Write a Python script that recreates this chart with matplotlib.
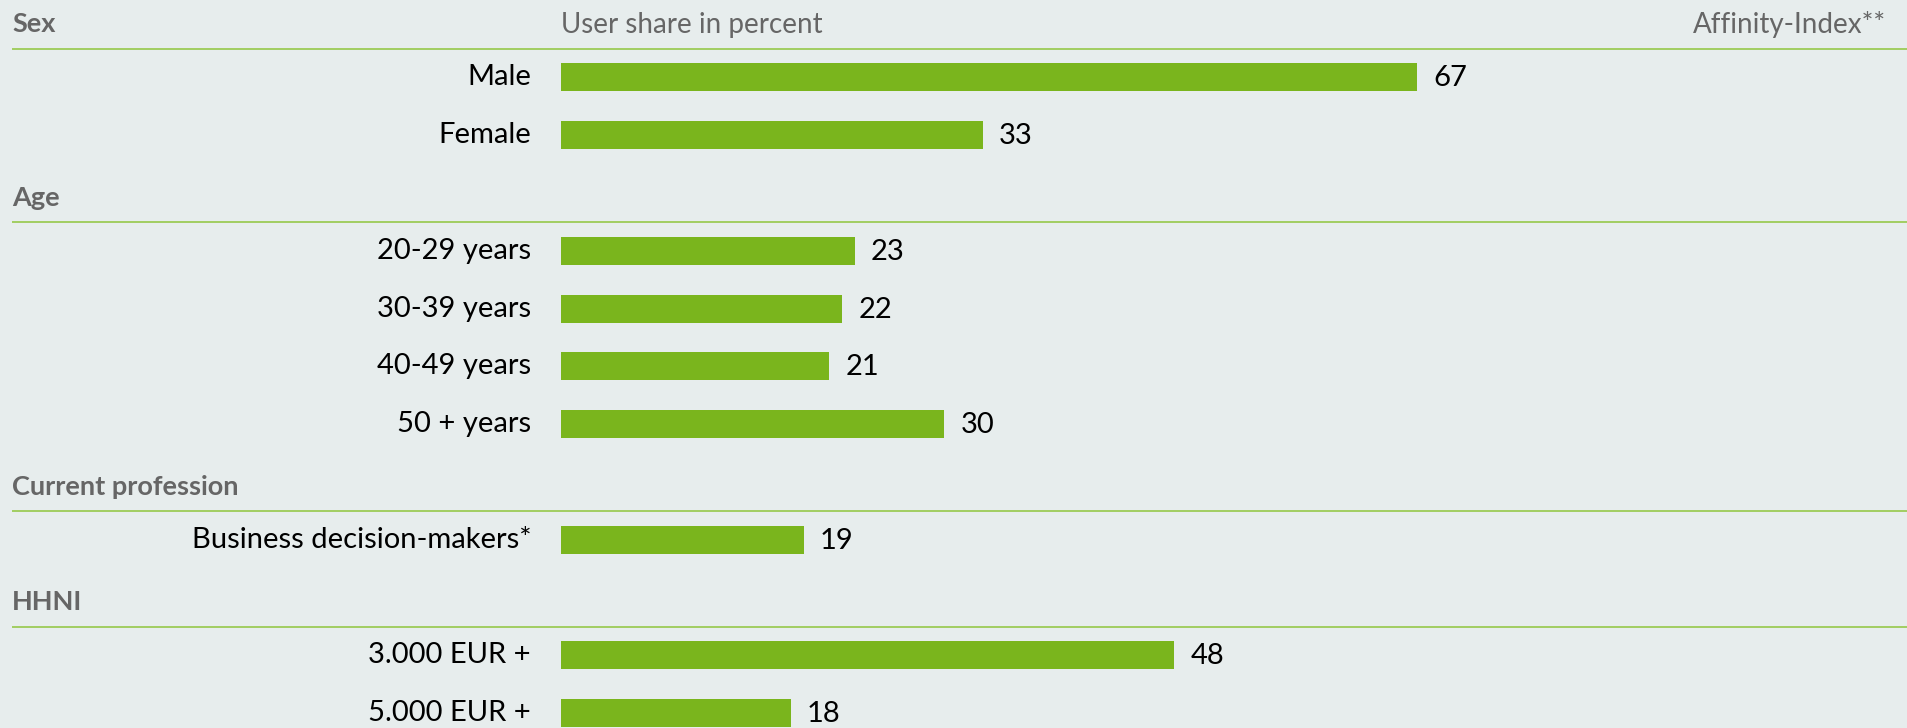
import matplotlib.pyplot as plt

# data
sections = ["Sex", "Age", "Current profession", "HHNI"]
labels = [["Male", "Female"],
          ["20-29 years", "30-39 years", "40-49 years", "50 + years"],
          ["Business decision-makers*"],
          ["3.000 EUR +", "5.000 EUR +"]]
values = [[67, 33],
          [23, 22, 21, 30],
          [19],
          [48, 18]]

col_title = "User share in percent"
right_title = "Affinity-Index**"

BG = "#e7eded"
GREEN = "#7ab51d"
LINE = "#9ccb57"
GREY = "#666666"

plt.rcParams['font.family'] = ['Lato', 'DejaVu Sans']

W, H = 1908, 728
fig = plt.figure(figsize=(W / 100, H / 100), dpi=100, facecolor=BG)
ax = fig.add_axes([0, 0, 1, 1])
ax.set_facecolor(BG)

x0 = 561.0          # pixel where 0 % sits
ppu = 12.78         # pixels per percent
ax.set_xlim(-x0 / ppu, (W - x0) / ppu)
ax.set_ylim(H, 0)
ax.axis('off')

pitch = 57.8
row = 0
xleft = (12 - x0) / ppu
for s, labs, vals in zip(sections, labels, values):
    yh = 19.5 + row * pitch
    ax.text(xleft, yh + 5, s, ha='left', va='center', fontsize=19.5,
            fontweight='bold', color=GREY)
    if row == 0:
        ax.text(0, yh + 5, col_title, ha='left', va='center', fontsize=20, color=GREY)
        ax.text((1886 - x0) / ppu, yh + 5, right_title, ha='right', va='center',
                fontsize=20, color=GREY)
    ax.plot([xleft, (W - x0) / ppu], [yh + 29, yh + 29], color=LINE, lw=1.3,
            solid_capstyle='butt')
    row += 1
    for lab, v in zip(labs, vals):
        y = 19.5 + row * pitch
        ax.barh(y, v, height=28, left=0, color=GREEN)
        ax.text(-30 / ppu, y, lab, ha='right', va='center', fontsize=21, color='black')
        ax.text(v + 16 / ppu, y + 1, str(v), ha='left', va='center', fontsize=21,
                color='black')
        row += 1

fig.savefig("out.png", dpi=100, facecolor=BG)
